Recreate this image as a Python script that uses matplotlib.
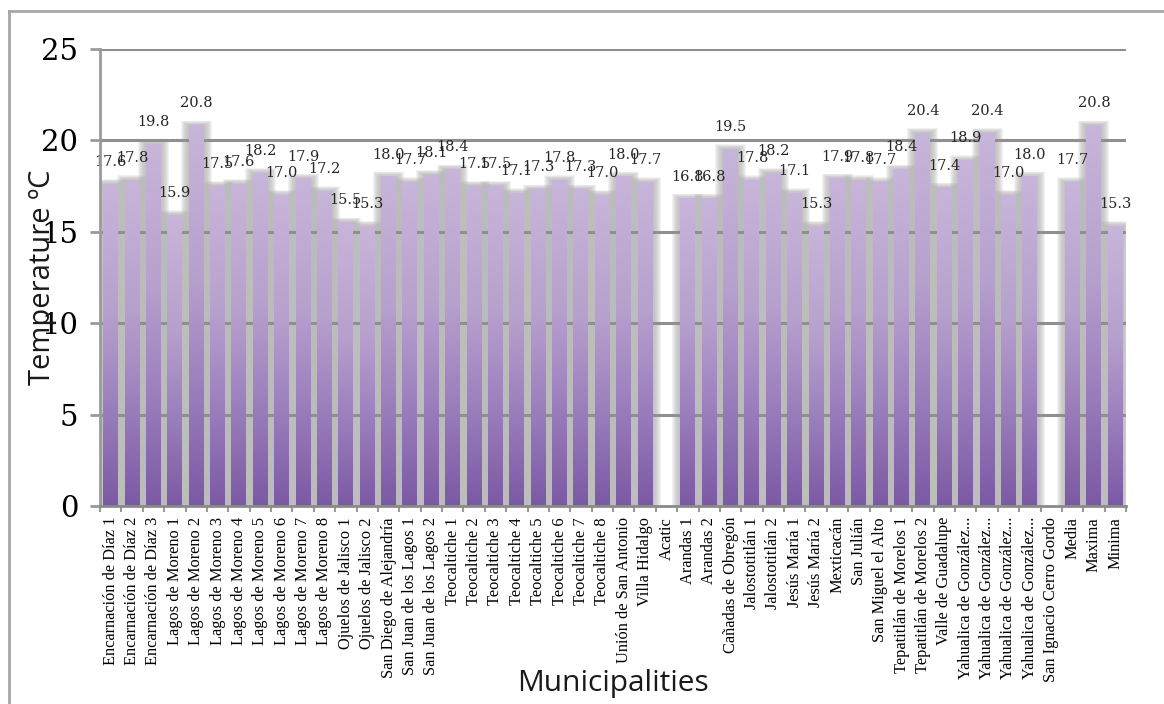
import numpy as np
import matplotlib
matplotlib.use("Agg")
import matplotlib.pyplot as plt
from matplotlib.colors import LinearSegmentedColormap
from matplotlib.lines import Line2D

# Mean temperature per station (ºC); NaN = no record
stations = [
    "Encarnación de Díaz 1", "Encarnación de Díaz 2", "Encarnación de Díaz 3",
    "Lagos de Moreno 1", "Lagos de Moreno 2", "Lagos de Moreno 3", "Lagos de Moreno 4",
    "Lagos de Moreno 5", "Lagos de Moreno 6", "Lagos de Moreno 7", "Lagos de Moreno 8",
    "Ojuelos de Jalisco 1", "Ojuelos de Jalisco 2", "San Diego de Alejandría",
    "San Juan de los Lagos 1", "San Juan de los Lagos 2",
    "Teocaltiche 1", "Teocaltiche 2", "Teocaltiche 3", "Teocaltiche 4",
    "Teocaltiche 5", "Teocaltiche 6", "Teocaltiche 7", "Teocaltiche 8",
    "Unión de San Antonio", "Villa Hidalgo", "Acatic", "Arandas 1", "Arandas 2",
    "Cañadas de Obregón", "Jalostotitlán 1", "Jalostotitlán 2", "Jesús María 1",
    "Jesús María 2", "Mexticacán", "San Julián", "San Miguel el Alto",
    "Tepatitlán de Morelos 1", "Tepatitlán de Morelos 2", "Valle de Guadalupe",
    "Yahualica de González...", "Yahualica de González...",
    "Yahualica de González...", "Yahualica de González...",
    "San Ignacio Cerro Gordo", "Media", "Maxima", "Minima",
]
temps = [
    17.6, 17.8, 19.8, 15.9, 20.8, 17.5, 17.6, 18.2, 17.0, 17.9, 17.2,
    15.5, 15.3, 18.0, 17.7, 18.1, 18.4, 17.5, 17.5, 17.1, 17.3, 17.8,
    17.3, 17.0, 18.0, 17.7, np.nan, 16.8, 16.8, 19.5, 17.8, 18.2, 17.1,
    15.3, 17.9, 17.8, 17.7, 18.4, 20.4, 17.4, 18.9, 20.4, 17.0, 18.0,
    np.nan, 17.7, 20.8, 15.3,
]
yticks = [0, 5, 10, 15, 20, 25]

W, H = 1164, 704
fig = plt.figure(figsize=(W / 100, H / 100), dpi=100)
ax = fig.add_axes([100 / W, 1 - 506 / H, 1026 / W, 457 / H])

n = len(stations)
x = np.arange(n)
bw = 0.7
px = 1.0 / 21.37  # one pixel in data units along x

purple = LinearSegmentedColormap.from_list(
    "purple_grad",
    [(0.0, "#7b59a4"), (0.3, "#9a7ebc"), (0.6, "#b6a0cd"), (1.0, "#c8b5da")],
)
grad = np.linspace(0, 1, 256).reshape(-1, 1)

for xi, v in zip(x, temps):
    if np.isnan(v):
        continue
    # soft grey drop shadow behind each bar
    for d in range(1, 9):
        ax.bar(xi, v + 0.035 * d, width=bw + 2 * d * px, color="#b4b4b4",
               alpha=0.17, linewidth=0, zorder=1)
    ax.imshow(grad, extent=(xi - bw / 2, xi + bw / 2, 0, v), origin="lower",
              aspect="auto", cmap=purple, zorder=3, interpolation="bilinear")
    ax.annotate(f"{v:.1f}", xy=(xi, v), xytext=(0, 11), textcoords="offset points",
                ha="center", va="bottom", fontsize=10.5, family="DejaVu Serif",
                color="#262626", zorder=4)

ax.set_xlim(-0.5, n - 0.5)
ax.set_ylim(0, 25)

for y in yticks[1:]:
    ax.axhline(y, color="#8f8f8f", lw=2.2, zorder=2)

for side in ("top", "right"):
    ax.spines[side].set_visible(False)
ax.spines["left"].set_color("#9a9a9a")
ax.spines["left"].set_linewidth(2)
ax.spines["bottom"].set_color("#8a8a8a")
ax.spines["bottom"].set_linewidth(2)
ax.spines["left"].set_zorder(5)
ax.spines["bottom"].set_zorder(5)

ax.set_yticks(yticks)
ax.set_yticklabels([str(t) for t in yticks], family="DejaVu Serif", fontsize=21)
ax.tick_params(axis="y", length=7.5, width=2, color="#999999", pad=8)

ax.set_xticks(x)
ax.set_xticklabels(stations, rotation=90, family="Liberation Serif", fontsize=11.8,
                   va="top", ha="center")
ax.set_xticks(np.arange(-0.5, n, 1), minor=True)
ax.tick_params(axis="x", which="major", length=0, pad=8)
ax.tick_params(axis="x", which="minor", length=4, width=1.5, color="#999999")

fig.text(43 / W, 1 - 277 / H, "Temperature ºC", rotation=90, ha="center",
         va="center", family="Open Sans", fontsize=21, color="#1a1a1a")
fig.text(613 / W, 1 - 684 / H, "Municipalities", ha="center", va="center",
         family="Open Sans", fontsize=21.5, color="#1a1a1a")

# outer frame around the chart area
fig.add_artist(Line2D([9 / W, 1.0], [1 - 11 / H, 1 - 11 / H],
                      transform=fig.transFigure, color="#a6a6a6", lw=2))
fig.add_artist(Line2D([9 / W, 9 / W], [0, 1 - 11 / H],
                      transform=fig.transFigure, color="#a6a6a6", lw=2))

fig.savefig("out.png", dpi=100)
